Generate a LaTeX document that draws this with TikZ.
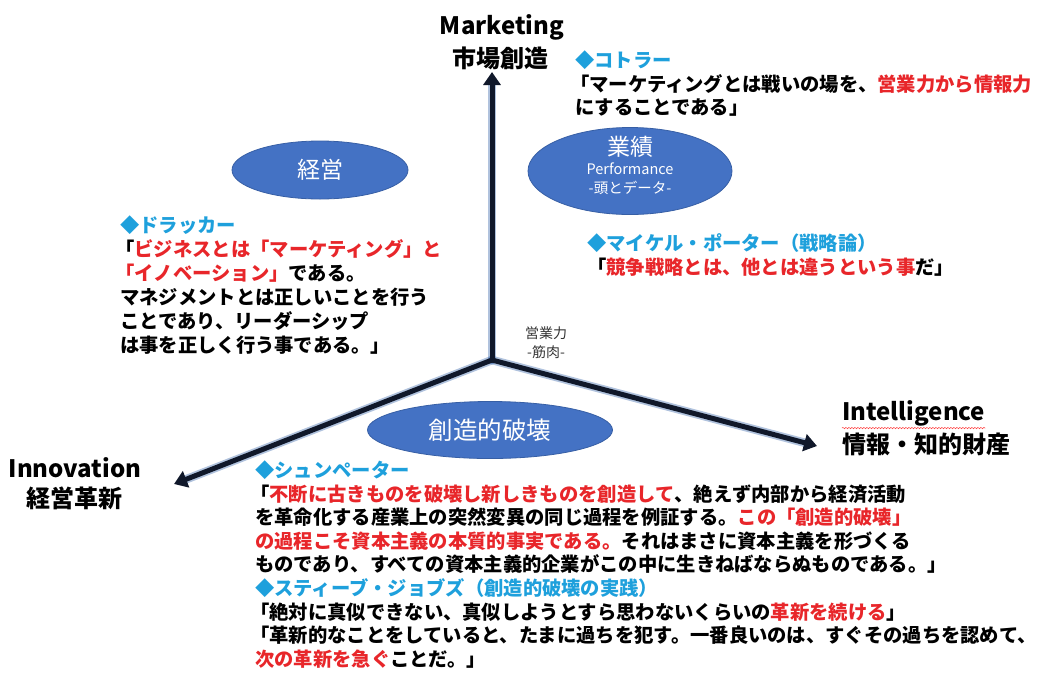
\documentclass[tikz,border=0pt]{standalone}
\usepackage{fontspec}
\setmainfont{Noto Sans CJK JP}
\usetikzlibrary{shapes.geometric,arrows.meta,decorations.pathmorphing}
\definecolor{qred}{RGB}{232,38,42}
\definecolor{qcyan}{RGB}{30,160,220}
\definecolor{ellblue}{RGB}{68,114,196}
\definecolor{ellline}{RGB}{55,95,165}
\definecolor{axisc}{RGB}{16,24,42}
\definecolor{glowc}{RGB}{80,120,180}
\newcommand\rt[1]{\textcolor{qred}{#1}}
\newcommand\hd[1]{\textcolor{qcyan}{#1}}
\newcommand\ob{\kern-0.25em「}
\newcommand\tstrut{\rule{0pt}{18pt}}
\begin{document}
\begin{tikzpicture}[x=1pt,y=-1pt,
  qblock/.style={anchor=north west, inner sep=0pt, align=left, font=\bfseries\fontsize{19.3}{23.5}\selectfont},
  qblockw/.style={qblock, font=\bfseries\fontsize{19.3}{24}\selectfont},
  ell/.style={ellipse, fill=ellblue, draw=ellline, line width=0.8pt, inner sep=0pt},
  elltext/.style={text=white, inner sep=0pt, font=\fontsize{23}{23}\selectfont},
  ellsmall/.style={text=white, inner sep=0pt, font=\fontsize{14.5}{15}\selectfont},
  axisline/.style={line width=5pt, draw=axisc, line cap=round, -{Triangle[length=13pt,width=17pt]}},
  glowline/.style={line width=8.5pt, draw=glowc, opacity=0.45, line cap=round, shorten >=12pt},
  axlab/.style={inner sep=0pt, font=\bfseries\fontsize{24}{24}\selectfont},
  axlat/.style={inner sep=0pt, font=\bfseries\fontsize{24}{24}\selectfont},
  smalllab/.style={inner sep=0pt, text=black!80, font=\fontsize{14}{14}\selectfont}
]
\fill[white] (0,0) rectangle (1046,673);
\useasboundingbox (0,0) rectangle (1046,673);

% axes
\coordinate (O) at (492,360);
\coordinate (mtip) at (492,72);
\coordinate (itip) at (174,484);
\coordinate (rtip) at (817,446);
\draw[glowline] (O) -- (mtip);
\draw[glowline] (O) -- (itip);
\draw[glowline] (O) -- (rtip);
\draw[axisline] (O) -- (mtip);
\draw[axisline] (O) -- (itip);
\draw[axisline] (O) -- (rtip);

% axis labels
\node[axlat] (mkE) at (502,27) {Marketing};
\node[axlab] (mkJ) at (500,58) {市場創造};
\node[axlat] (inE) at (75,468) {Innovation};
\node[axlab] (inJ) at (74,498) {経営革新};
\node[axlat, anchor=west] (itE) at (842,413) {Intelligence};
\node[axlab, anchor=west] (itJ) at (842,444) {情報・知的財産};
\draw[red!75, line width=0.5pt, decorate, decoration={snake, amplitude=0.7pt, segment length=3pt}]
  ([yshift=-2pt]itE.south west) -- ([yshift=-2pt]itE.south east);

\node[smalllab] (eig) at (546,333) {営業力};
\node[smalllab] (kin) at (546,352) {-筋肉-};

% ellipses
\node[ell, elltext, minimum width=176pt, minimum height=58pt] (keiei) at (320,170) {経営};
\node[ell, minimum width=204pt, minimum height=87pt] (gyoseki) at (630,171) {};
\node[elltext] (gy1) at (630,147) {業績};
\node[ellsmall] (gy2) at (630,169) {Performance};
\node[ellsmall] (gy3) at (630,188) {-頭とデータ-};
\node[ell, elltext, font=\fontsize{24.5}{24.5}\selectfont, minimum width=245pt, minimum height=57pt] (sozo) at (490,430) {創造的破壊};

% quote blocks
\node[qblock] (kotler) at (575,49.3) {\tstrut\hd{◆コトラー}\\
\ob マーケティングとは戦いの場を、\rt{営業力から情報力}\\
にすることである」};

\node[qblockw] (drucker) at (120,214.3) {\tstrut\hd{◆ドラッカー}\\
\ob\rt{ビジネスとは「マーケティング」と}\\
\rt{\ob イノベーション」}である。\\
マネジメントとは正しいことを行う\\
ことであり、リーダーシップ\\
は事を正しく行う事である。」};

\node[qblockw] (porter) at (587,232.3) {\tstrut\hd{◆マイケル・ポーター（戦略論）}\\
「\rt{競争戦略とは、他とは違うという事}だ」};

\node[qblock] (schump) at (255,459.3) {\tstrut\hd{◆シュンペーター}\\
\ob\rt{不断に古きものを破壊し新しきものを創造して}、絶えず内部から経済活動\\
を革命化する産業上の突然変異の同じ過程を例証する。\rt{この「創造的破壊」}\\
\rt{の過程こそ資本主義の本質的事実である。}それはまさに資本主義を形づくる\\
ものであり、すべての資本主義的企業がこの中に生きねばならぬものである。」};

\node[qblock] (jobs) at (255,577.3) {\tstrut\hd{◆スティーブ・ジョブズ（創造的破壊の実践）}\\
\ob 絶対に真似できない、真似しようとすら思わないくらいの\rt{革新を続ける}」\\
\ob 革新的なことをしていると、たまに過ちを犯す。一番良いのは、すぐその過ちを認めて、\\
\rt{次の革新を急ぐ}ことだ。」};
\end{tikzpicture}
\end{document}
